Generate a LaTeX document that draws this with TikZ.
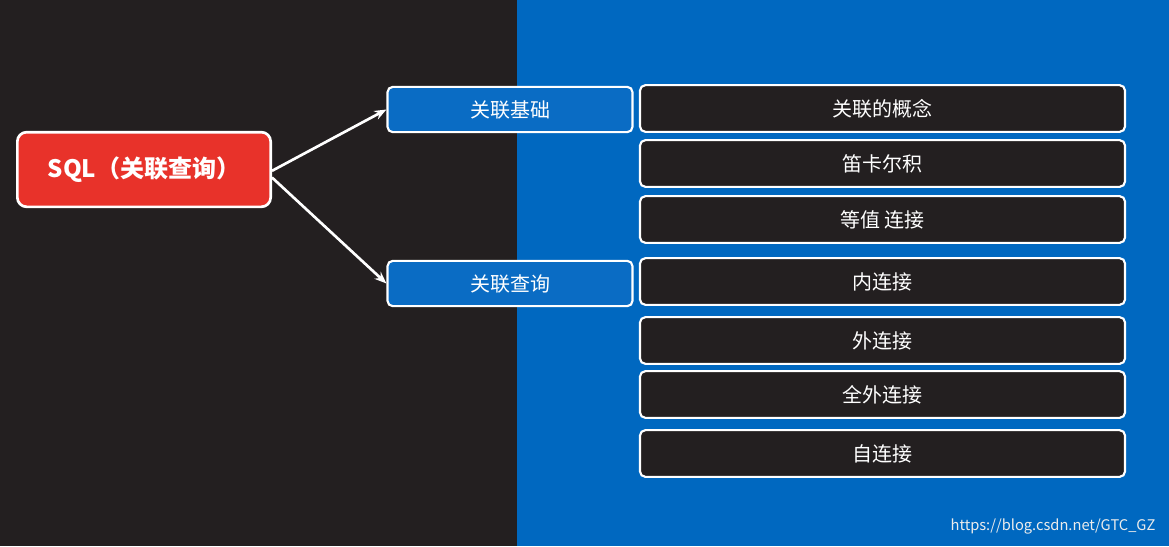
\documentclass[tikz,border=0pt]{standalone}
\usepackage{fontspec}
\setmainfont{Noto Sans CJK SC}
\usetikzlibrary{arrows.meta}
\definecolor{dark}{HTML}{231F20}
\definecolor{bluebg}{HTML}{0068C0}
\definecolor{redbox}{HTML}{E8322A}
\definecolor{bluebox}{HTML}{0A6CC4}
\begin{document}
\begin{tikzpicture}[x=0.75pt,y=-0.75pt,
  item/.style={draw=white,line width=1.6pt,rounded corners=4pt,fill=dark,text=white,minimum width=363.75pt,minimum height=35pt,font=\fontsize{15}{18}\selectfont},
  mid/.style={draw=white,line width=1.6pt,rounded corners=4pt,fill=bluebox,text=white,minimum width=183.75pt,minimum height=34pt,font=\fontsize{15}{18}\selectfont},
  arr/.style={draw=white,line width=2pt,-{Stealth[length=9pt,width=7pt]}}]
\useasboundingbox (0,0) rectangle (1169,546);
\fill[dark] (0,0) rectangle (517,546);
\fill[bluebg] (517,0) rectangle (1169,546);
\node[draw=white,line width=2pt,rounded corners=7pt,fill=redbox,text=white,minimum width=190pt,minimum height=56pt,font=\bfseries\fontsize{18}{22}\selectfont] (sql) at (144,169.5) {SQL（关联查询）};
\node[mid] (a) at (510,109.5) {关联基础};
\node[mid] (b) at (510,283.5) {关联查询};
\node[item] (r1) at (882.5,108.5) {关联的概念};
\node[item] (r2) at (882.5,163.5) {笛卡尔积};
\node[item] (r3) at (882.5,219.5) {等值 连接};
\node[item] (r4) at (882.5,281.5) {内连接};
\node[item] (r5) at (882.5,340.5) {外连接};
\node[item] (r6) at (882.5,394.5) {全外连接};
\node[item] (r7) at (882.5,453.5) {自连接};
\draw[arr] ([yshift=-1pt]sql.east) -- (a.west);
\draw[arr] ([yshift=-6pt]sql.east) -- (b.west);
\node[text=white!85!gray,font=\fontsize{11}{13}\selectfont] (wm) at (1053,526) {https://blog.csdn.net/GTC\_GZ};
\end{tikzpicture}
\end{document}
